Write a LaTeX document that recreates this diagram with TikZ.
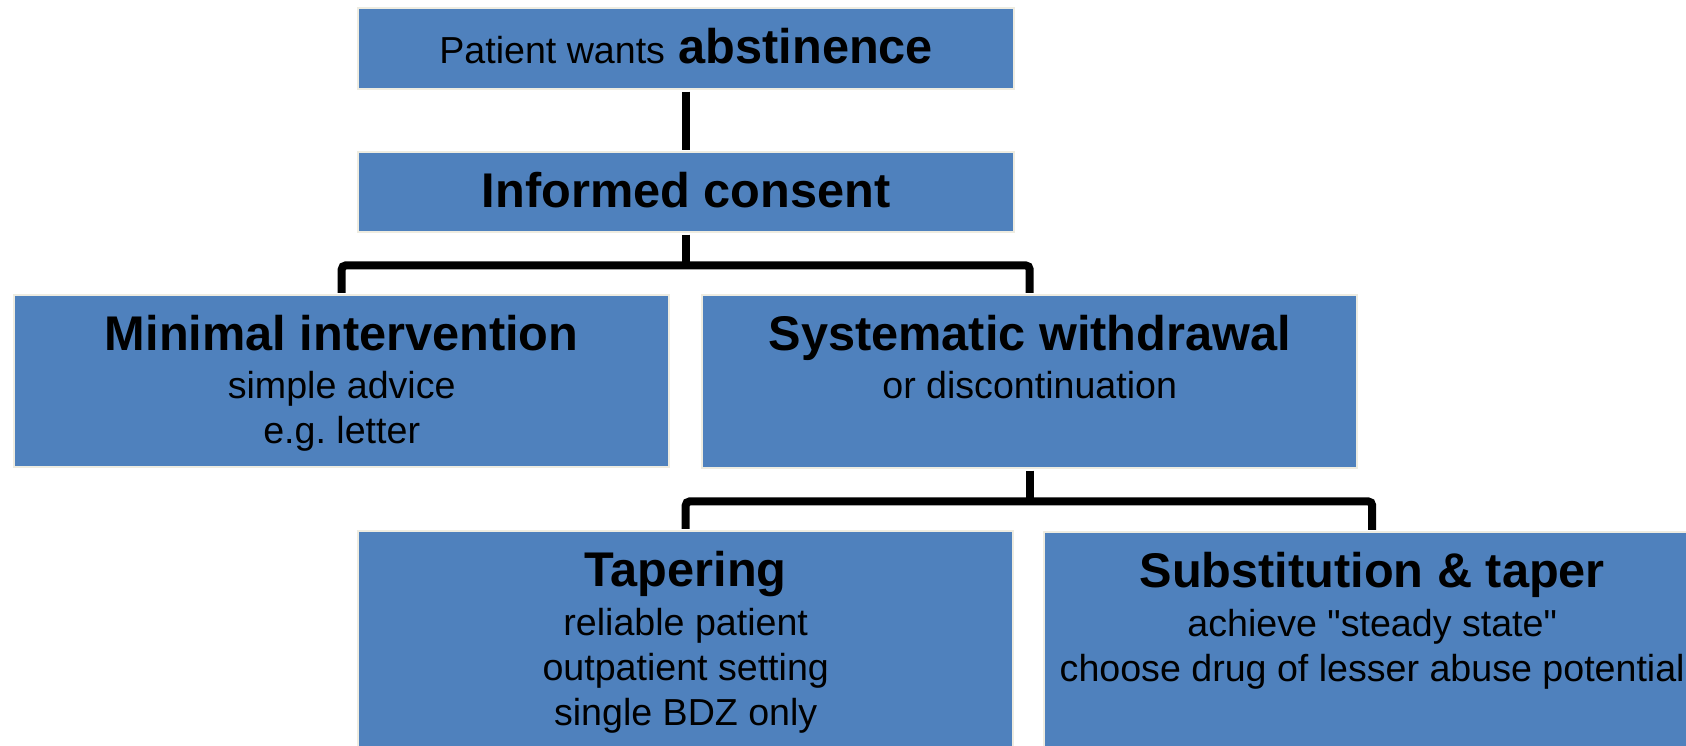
\documentclass[tikz,border=0pt]{standalone}
\usepackage{fontspec}
\setmainfont{Liberation Sans}
\usepackage{tikz}
\frenchspacing
\definecolor{azulcaja}{HTML}{4F81BD}
\definecolor{bordecaja}{HTML}{EEECE1}
\tikzstyle{bloque} = [fill=azulcaja, draw=bordecaja, line width=1.2pt, rectangle, anchor=north west, inner sep=0pt, minimum width=328pt]
\tikzstyle{encabezado} = [anchor=base, inner sep=0pt, font=\fontsize{24.35}{29}\selectfont\bfseries]
\tikzstyle{detalle} = [anchor=north, inner sep=0pt, align=center, font=\fontsize{18.8}{22.5}\selectfont]
\tikzstyle{conector} = [line width=4pt, black, rounded corners=2pt, shorten <=0.6pt, shorten >=0.6pt]

\begin{document}
\begin{tikzpicture}[x=0.5pt, y=-0.5pt]
\useasboundingbox (0,0) rectangle (1686,745);
\clip (0,0) rectangle (1686,745);

% cajas
\node[bloque, minimum height=40.5pt] (abst) at (357,7) {};
\node[bloque, minimum height=40pt] (consent) at (357,151) {};
\node[bloque, minimum width=327.5pt, minimum height=86pt] (minimal) at (13,294) {};
\node[bloque, minimum width=327.5pt, minimum height=86.5pt] (systematic) at (701,294) {};
\node[bloque, minimum width=327.5pt, minimum height=135pt] (tapering) at (357,530) {};
\node[bloque, minimum height=135pt] (substitution) at (1043,531) {};

% textos
\node[encabezado] (abstT) at ([yshift=-28pt]abst.north) {{\mdseries\fontsize{18.8}{22.5}\selectfont Patient wants} abstinence};
\node[encabezado] (consentT) at ([yshift=-28pt]consent.north) {Informed consent};
\node[encabezado] (minimalT) at ([yshift=-28.25pt]minimal.north) {Minimal intervention};
\node[detalle] (minimalD) at ([yshift=-36.5pt]minimal.north) {\strut simple advice\\\strut e.g. letter};
\node[encabezado] (systematicT) at ([yshift=-28.25pt]systematic.north) {Systematic withdrawal};
\node[detalle] (systematicD) at ([yshift=-36.5pt]systematic.north) {\strut or discontinuation};
\node[encabezado] (taperingT) at ([yshift=-28pt]tapering.north) {Tapering};
\node[detalle] (taperingD) at ([yshift=-36.75pt]tapering.north) {\strut reliable patient\\\strut outpatient setting\\\strut single BDZ only};
\node[encabezado] (substitutionT) at ([yshift=-28pt]substitution.north) {Substitution \& taper};
\node[detalle] (substitutionD) at ([yshift=-36.75pt]substitution.north) {\strut achieve \textquotedbl steady state\textquotedbl\\\strut choose drug of lesser abuse potential};

% conectores
\draw[conector] (abst.south) -- (consent.north);
\draw[conector] (consent.south) -- ++(0,-16pt) coordinate (split1);
\draw[conector] (minimal.north) |- (split1) -| (systematic.north);
\draw[conector] (systematic.south) -- ++(0,-16pt) coordinate (split2);
\draw[conector] (tapering.north) |- (split2) -| (substitution.north);
\end{tikzpicture}
\end{document}
